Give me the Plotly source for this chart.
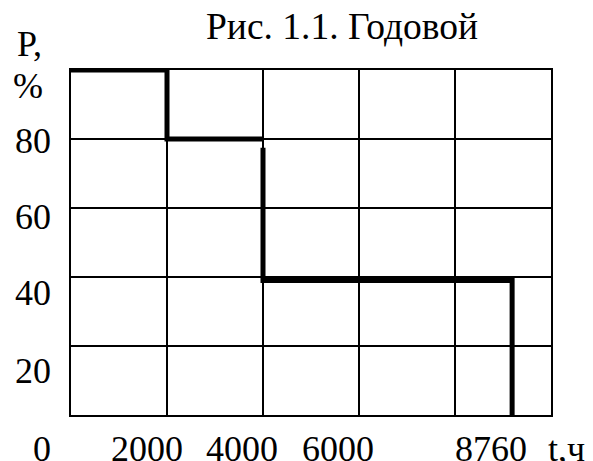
import plotly.graph_objects as go

# --- data ---
# step curve of the annual load duration graph: P (%) vs t (h)
upper_t = [0, 2000, 2000, 4000]
upper_p = [100, 100, 80, 80]
lower_t = [4000, 4000, 9190, 9190]
lower_p = [77.5, 39, 39, -2.5]

x_tick_values = [0, 2000, 4000, 6000, 8760]
x_tick_labels = ["0", "2000", "4000", "6000", "8760"]
y_tick_values = [20, 40, 60, 80]
y_tick_labels = ["20", "40", "60", "80"]

title_text = "Рис. 1.1. Годовой"
x_unit = "t,ч"
y_unit_1 = "P,"
y_unit_2 = "%"

FONT = "Liberation Serif"
FS = 36

fig = go.Figure()
for tt, pp in ((upper_t, upper_p), (lower_t, lower_p)):
    fig.add_trace(go.Scatter(
        x=tt, y=pp, mode="lines",
        line=dict(color="black", width=5),
        cliponaxis=False, showlegend=False, hoverinfo="skip",
    ))

annotations = []
# x tick labels (drawn slightly left of grid lines in the original)
x_shifts = [-29, -20, -21, -21, 0]
for v, lab, sh in zip(x_tick_values, x_tick_labels, x_shifts):
    annotations.append(dict(
        x=v, xref="x", y=-0.098, yref="paper", text=lab, showarrow=False,
        xanchor="center", yanchor="middle", xshift=sh,
        font=dict(family=FONT, size=FS, color="black"),
    ))
# y tick labels (spacing in the original is a bit wider than the grid)
y_shifts = [-25, -16, -9, -2]
for v, lab, sh in zip(y_tick_values, y_tick_labels, y_shifts):
    annotations.append(dict(
        x=-0.079, xref="paper", y=v, yref="y", text=lab, showarrow=False,
        xanchor="center", yanchor="middle", yshift=sh,
        font=dict(family=FONT, size=FS, color="black"),
    ))
annotations.append(dict(
    x=1.033, xref="paper", y=-0.098, yref="paper", text=x_unit, showarrow=False,
    xanchor="center", yanchor="middle",
    font=dict(family=FONT, size=FS, color="black"),
))
annotations.append(dict(
    x=-0.087, xref="paper", y=1.075, yref="paper", text=y_unit_1, showarrow=False,
    xanchor="center", yanchor="middle",
    font=dict(family=FONT, size=FS, color="black"),
))
annotations.append(dict(
    x=-0.09, xref="paper", y=0.955, yref="paper", text=y_unit_2, showarrow=False,
    xanchor="center", yanchor="middle",
    font=dict(family=FONT, size=FS, color="black"),
))
annotations.append(dict(
    x=0.565, xref="paper", y=1.125, yref="paper", text=title_text, showarrow=False,
    xanchor="center", yanchor="middle",
    font=dict(family=FONT, size=37.5, color="black"),
))

# the page body has an 8px margin, so the figure is 8px smaller and shifted
fig.update_layout(
    width=585, height=453,
    margin=dict(l=63, r=42, t=62, b=46),
    paper_bgcolor="white", plot_bgcolor="white",
    annotations=annotations,
    xaxis=dict(range=[0, 10000], dtick=2000, tick0=0, showgrid=True,
               gridcolor="black", gridwidth=2, showline=True, mirror=True,
               linecolor="black", linewidth=2, showticklabels=False,
               ticks="", zeroline=False, fixedrange=True),
    yaxis=dict(range=[0, 100], dtick=20, tick0=0, showgrid=True,
               gridcolor="black", gridwidth=2, showline=True, mirror=True,
               linecolor="black", linewidth=2, showticklabels=False,
               ticks="", zeroline=False, fixedrange=True),
)

fig.write_html("out.html", config={"displayModeBar": False})
